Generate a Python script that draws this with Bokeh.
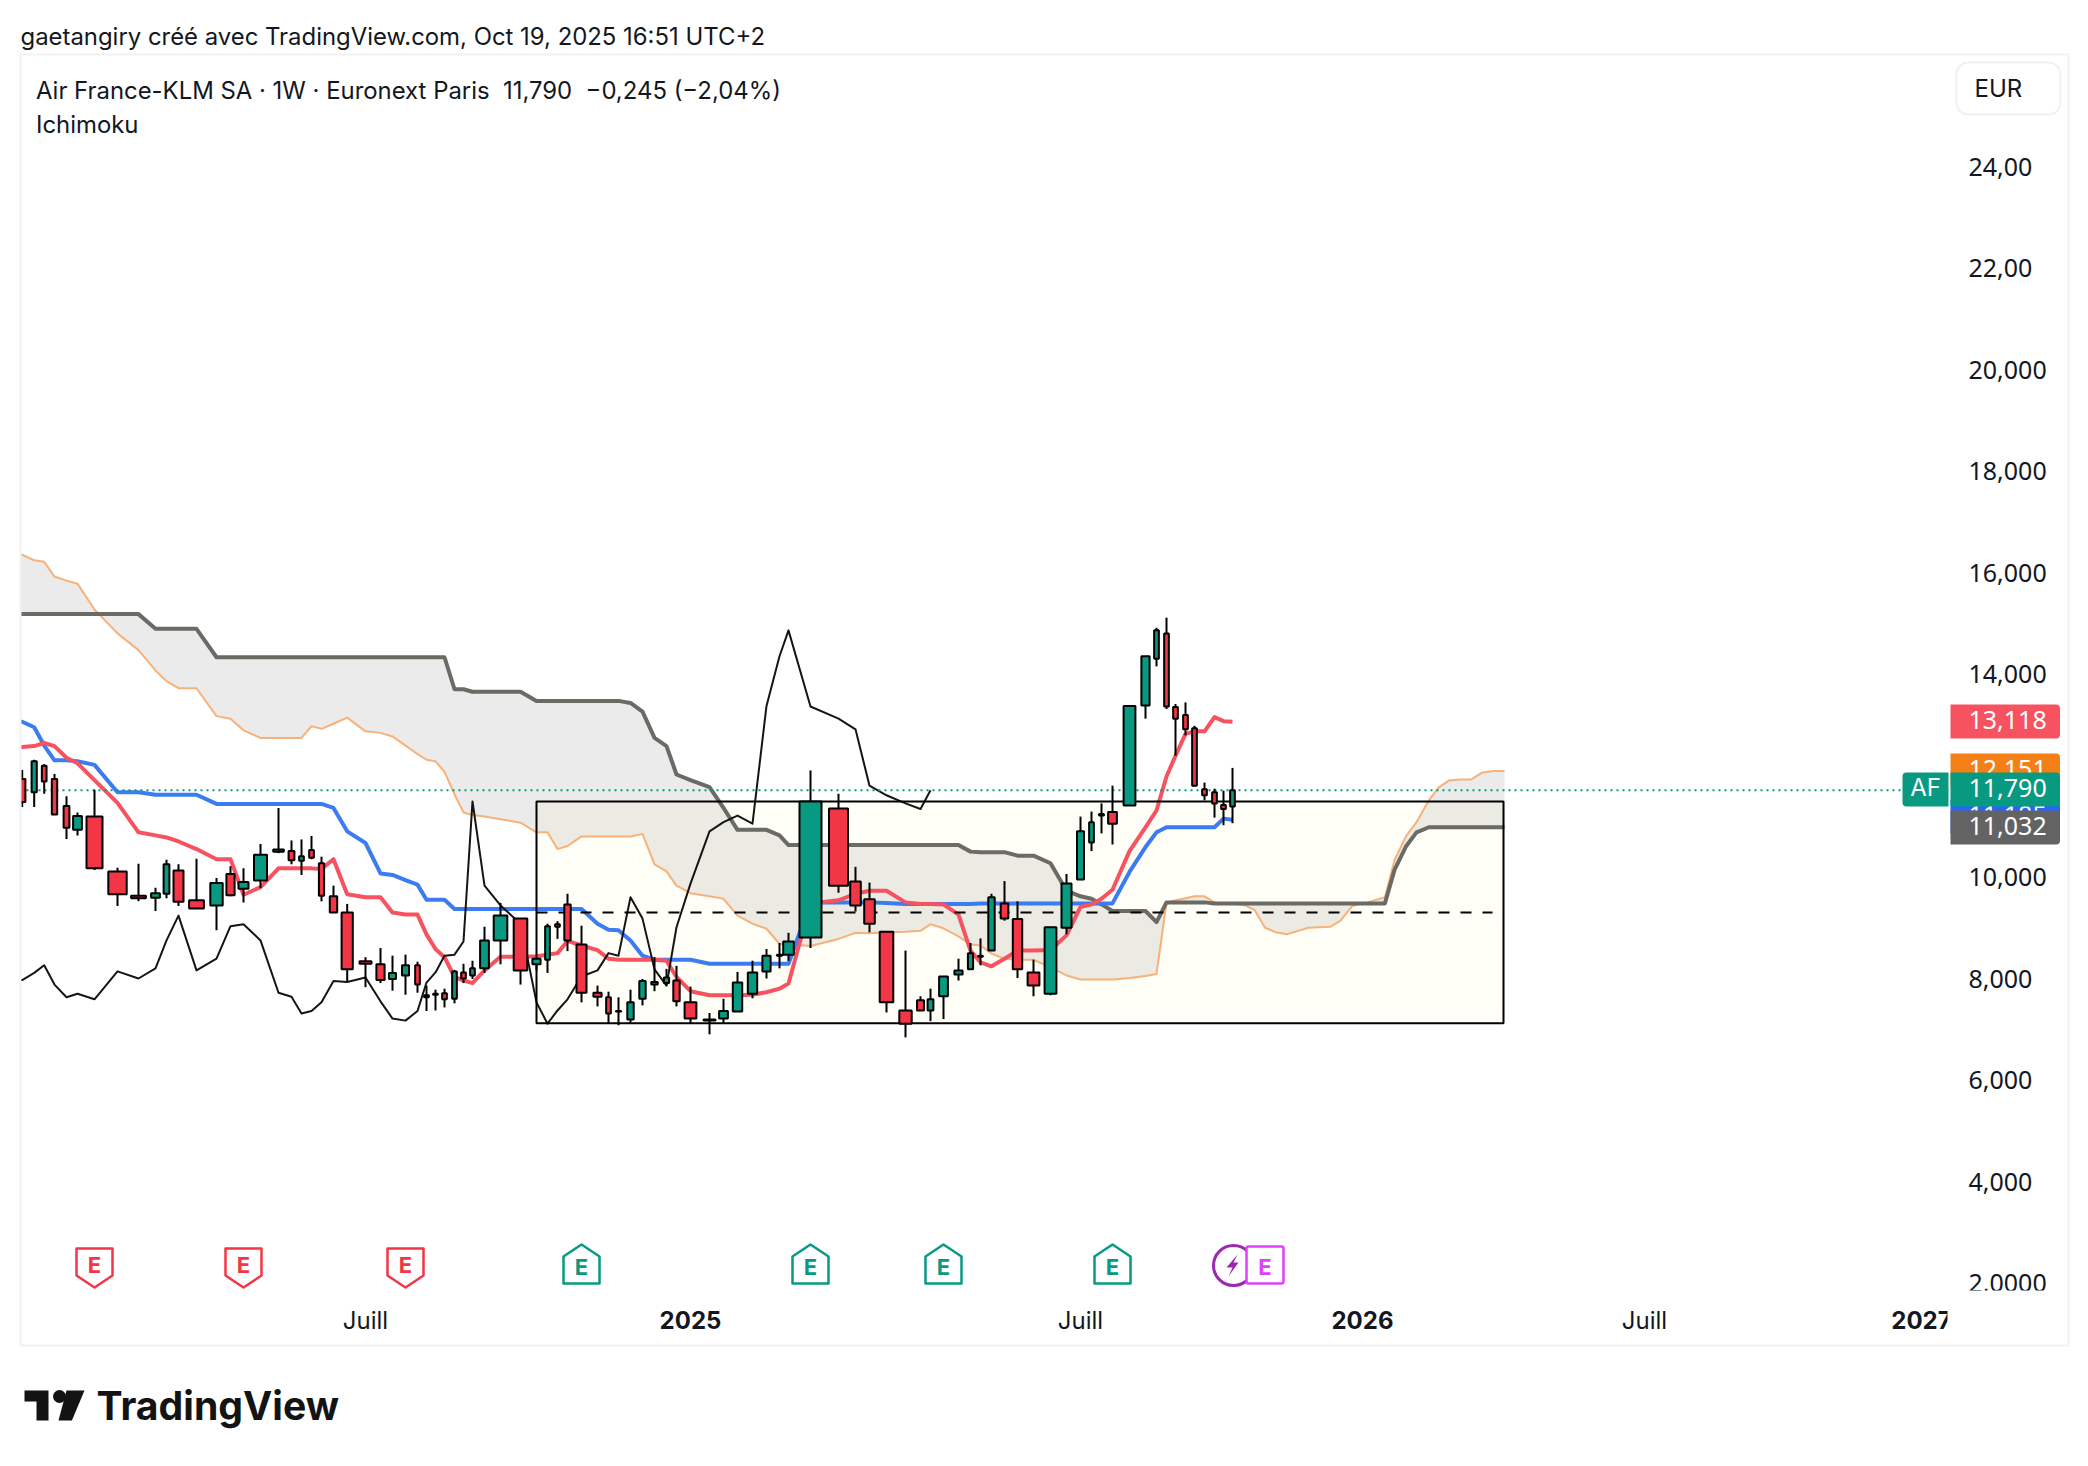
from bokeh.plotting import figure
from bokeh.models import Range1d, LinearAxis, FixedTicker
from bokeh.core.properties import value
from bokeh.embed import file_html
from bokeh.resources import INLINE

# ---------- data ----------
week_pos = [21.7,33.7,43.7,54,66,77,94,117,138,155,166,178,196,216,230,243,260,278,291,301,
            311,321,333,346.7,365,380,392,405,417,426,435,444,454,463,472,484,500,520,536,547,
            557,567,581,597,608,618,630,642,654,666,676,690,709,723,737,752,766,779,788,810,
            838,855,869,886,905,920,930,943,958,970,980,991,1004,1017,1033,1050,1066,1080,1091,1101,
            1112,1129,1145,1156,1166,1175,1185,1194,1204,1214,1223,1232]
future_pos = [1244.7,1254,1264.6,1275.3,1286,1307.8,1330,1340,1351.8,1367,1384.4,1394,1405.4,1416,
              1428.4,1438,1448.3,1459,1470.5,1482,1492.7,1504]

opens = [11.93,11.67,12.19,11.93,11.40,10.93,11.19,10.11,9.63,9.59,
         9.67,10.13,9.54,9.44,10.06,9.77,9.93,10.50,10.51,10.32,
         10.53,10.27,9.62,9.30,8.34,8.28,7.99,8.06,8.26,7.67,
         7.68,7.71,7.60,8.12,8.06,8.20,8.75,9.18,8.28,8.37,
         9.02,9.46,8.67,7.72,7.63,7.35,7.19,7.60,7.88,7.91,
         7.96,7.53,7.19,7.21,7.35,7.70,8.14,8.45,8.47,8.81,
         11.35,9.91,9.56,8.92,7.37,7.57,7.37,7.65,8.08,8.18,
         8.43,8.55,9.48,9.17,8.12,7.70,9.00,9.95,10.68,11.24,
         11.28,11.41,13.38,14.30,14.80,13.35,13.19,12.93,11.73,11.67,11.42,11.39]
closes = [11.48,12.28,11.88,11.23,10.97,11.20,10.17,9.66,9.58,9.68,
          10.25,9.51,9.38,9.88,9.64,9.90,10.44,10.54,10.33,10.41,
          10.38,9.63,9.30,8.18,8.29,7.97,8.11,8.26,7.88,7.63,
          7.70,7.59,8.14,8.00,8.20,8.75,9.24,8.16,8.39,9.03,
          9.07,8.75,7.72,7.64,7.31,7.36,7.53,7.95,7.93,8.02,
          7.55,7.21,7.17,7.36,7.92,8.12,8.45,8.47,8.73,11.49,
          9.83,9.44,9.08,7.53,7.11,7.37,7.59,8.04,8.16,8.50,
          8.45,9.60,9.18,8.18,7.86,9.01,9.87,10.90,11.08,11.21,
          11.05,13.37,14.35,14.86,13.36,13.12,12.91,11.80,11.61,11.45,11.34,11.71]
highs = [12.11,12.31,12.22,12.03,11.59,11.27,11.72,10.18,10.26,9.79,
         10.34,10.25,10.36,9.98,10.21,10.17,10.65,11.36,10.72,10.74,
         10.81,10.40,9.83,9.47,8.42,8.60,8.45,8.47,8.33,7.86,
         7.78,7.80,8.17,8.29,8.35,9.02,9.49,9.19,8.40,9.08,
         9.13,9.67,9.04,7.86,7.74,7.63,7.78,7.99,8.42,8.19,
         8.25,7.84,7.32,7.60,8.13,8.35,8.58,8.70,8.90,12.10,
         11.64,10.20,9.89,8.92,8.55,7.65,7.80,8.04,8.39,8.70,
         8.79,9.67,9.92,9.52,8.37,9.01,10.06,11.19,11.29,11.45,
         11.80,13.37,14.35,14.91,15.11,13.41,13.44,12.98,11.86,11.74,11.70,12.15]
lows = [11.38,11.38,11.64,11.23,10.75,10.82,10.14,9.43,9.52,9.33,
        9.58,9.43,9.38,8.95,9.62,9.50,9.78,10.47,10.25,10.04,
        10.35,9.52,9.30,7.93,7.83,7.91,7.76,7.68,7.72,7.36,
        7.37,7.43,7.51,7.91,7.99,8.11,8.28,7.88,8.16,8.11,
        8.78,8.54,7.53,7.45,7.12,7.08,7.12,7.47,7.75,7.86,
        7.45,7.12,6.90,7.12,7.35,7.61,8.00,8.20,8.35,8.60,
        9.69,9.32,8.91,7.33,6.84,7.37,7.16,7.20,7.96,8.18,
        8.26,8.55,9.14,8.01,7.65,7.67,8.87,9.95,10.51,10.86,
        10.64,11.41,13.12,14.15,13.31,12.39,12.79,11.80,11.51,11.17,11.02,11.06]

tenkan = [12.56,12.58,12.64,12.58,12.35,12.24,11.91,11.46,10.88,10.82,
          10.78,10.70,10.55,10.35,10.35,9.65,9.80,10.17,10.17,10.17,
          10.17,10.16,10.35,9.66,9.60,9.60,9.30,9.26,9.26,8.87,
          8.58,8.42,8.03,7.96,7.91,8.16,8.43,8.43,8.44,8.47,
          8.50,8.74,8.65,8.56,8.39,8.37,8.37,8.37,8.37,8.35,
          8.03,7.75,7.67,7.67,7.67,7.68,7.73,7.80,7.90,9.48,
          9.54,9.67,9.73,9.73,9.50,9.47,9.47,9.46,9.26,8.55,
          8.32,8.24,8.39,8.55,8.55,8.56,8.85,9.41,9.46,9.57,
          9.75,10.51,10.98,11.31,11.98,12.39,12.82,12.87,12.87,13.15,13.07,13.06]
kijun = [13.06,12.95,12.59,12.30,12.30,12.28,12.21,11.67,11.67,11.62,
         11.62,11.62,11.62,11.44,11.44,11.44,11.44,11.44,11.44,11.44,
         11.44,11.44,11.36,10.90,10.67,10.07,10.04,9.94,9.85,9.55,
         9.55,9.55,9.37,9.37,9.37,9.37,9.37,9.37,9.37,9.37,
         9.37,9.37,9.37,9.08,8.96,8.95,8.75,8.45,8.37,8.37,
         8.37,8.37,8.29,8.29,8.29,8.29,8.29,8.29,8.29,9.50,
         9.50,9.50,9.50,9.49,9.47,9.47,9.47,9.47,9.47,9.47,
         9.48,9.48,9.48,9.48,9.48,9.48,9.48,9.48,9.48,9.48,
         9.48,10.10,10.59,10.88,10.98,10.98,10.98,10.98,10.98,10.98,11.15,11.13]
senkou_a = [16.35,16.24,16.21,15.92,15.84,15.78,15.27,14.80,14.47,14.07,
            13.86,13.72,13.72,13.17,13.12,12.89,12.74,12.74,12.74,12.74,
            12.97,12.92,13.02,13.14,12.87,12.84,12.77,12.59,12.42,12.31,
            12.28,12.07,11.63,11.27,11.22,11.19,11.14,11.07,10.88,10.88,
            10.55,10.61,10.80,10.80,10.80,10.80,10.80,10.85,10.25,10.11,
            9.83,9.68,9.62,9.57,9.24,9.08,8.98,8.68,8.67,8.64,
            8.78,8.90,8.89,8.91,8.92,8.94,9.07,8.99,8.83,8.67,
            8.65,8.49,8.39,8.37,8.37,8.22,8.06,7.98,7.98,7.98,
            7.98,8.01,8.05,8.09,9.50,9.54,9.58,9.62,9.62,9.50,9.48,9.48,
            9.44,9.35,9.00,8.91,8.87,9.00,9.02,9.14,9.43,9.50,9.60,
            10.33,10.80,11.08,11.51,11.76,11.90,11.92,11.92,12.06,12.09,12.09]
senkou_b = [15.18,15.18,15.18,15.18,15.18,15.18,15.18,15.18,15.18,14.89,
            14.89,14.89,14.89,14.33,14.33,14.33,14.33,14.33,14.33,14.33,
            14.33,14.33,14.33,14.33,14.33,14.33,14.33,14.33,14.33,14.33,
            14.33,14.33,13.70,13.70,13.65,13.65,13.65,13.65,13.47,13.47,
            13.47,13.47,13.47,13.47,13.47,13.47,13.43,13.26,12.74,12.58,
            12.02,11.91,11.77,11.36,10.93,10.93,10.93,10.82,10.63,10.63,
            10.63,10.63,10.63,10.63,10.63,10.63,10.63,10.63,10.63,10.50,
            10.49,10.49,10.49,10.42,10.42,10.27,9.73,9.62,9.57,9.46,
            9.33,9.33,9.33,9.11,9.50,9.50,9.50,9.50,9.50,9.48,9.48,9.48,
            9.48,9.48,9.48,9.48,9.48,9.48,9.48,9.48,9.48,9.48,9.48,
            10.14,10.60,10.88,10.98,10.98,10.98,10.98,10.98,10.98,10.98,10.98]
box_top, box_bottom, box_mid = 11.49, 7.12, 9.30
box_left, box_right, box_mid_end = 536, 1503, 1492

price_ticks = [2,4,6,8,10,12,14,16,18,20,22,24]
price_tick_labels = ["2,0000","4,000","6,000","8,000","10,000","12,000","14,000","16,000","18,000","20,000","22,00","24,00"]
month_ticks, month_labels = [365,1080,1644], ["Juill","Juill","Juill"]
year_ticks, year_labels = [690,1362,1921], ["2025","2026","2027"]
earn_red, earn_green = [6,15,27], [42,59,67,80]

GREEN, RED = "#089981", "#f23645"
FONT = value("Inter")
NUMFONT = "Noto Sans"
INK = "#131722"

# ---------- canvas: 1 x-unit is 1 page px ----------
W, H = 2080, 1458
def price_at(px):
    return 24 - (px - 166) / 50.75

p = figure(width=W, height=H, output_backend="svg", toolbar_location=None,
           x_axis_type=None, y_axis_type=None, min_border=0,
           x_range=Range1d(0, W), y_range=Range1d(price_at(H), price_at(0)))
p.outline_line_color = None
p.grid.visible = False
p.background_fill_color = "white"
p.extra_y_ranges = {"px": Range1d(H, 0)}

def label(x, y, txt, size, color=INK, align="left", baseline="middle", style="normal", font=FONT):
    p.text(x=[x], y=[y], text=[txt], text_font=font, text_font_size=f"{size}px", text_color=color,
           text_align=align, text_baseline=baseline, text_font_style=style,
           y_range_name="px", level="overlay")

# every line is carried back to the pane's left edge
FRAME_LEFT = 20
def lead(series):
    return [series[0]] + series

# ---------- cloud, box, ichimoku lines ----------
all_pos = [FRAME_LEFT] + week_pos + future_pos
bar_pos = [FRAME_LEFT] + week_pos
p.varea(x=all_pos, y1=lead(senkou_a), y2=lead(senkou_b), fill_color="#ebebeb")
p.quad(left=[box_left], right=[box_right], top=[box_top], bottom=[box_bottom],
       fill_color="#ffeb3b", fill_alpha=0.04, line_color=None)
p.line(all_pos, lead(senkou_a), line_color="#f7b27a", line_width=2)
p.line(all_pos, lead(senkou_b), line_color="#6b6b66", line_width=4, line_join="round")
p.line(bar_pos, lead(kijun), line_color="#3b7cf2", line_width=4, line_join="round")
p.line(bar_pos, lead(tenkan), line_color="#f7525f", line_width=4, line_join="round")
p.line(bar_pos[:len(closes) - 24], lead(closes[25:]), line_color="#151515", line_width=2, line_join="round")
p.line([FRAME_LEFT, 1902], [closes[-1], closes[-1]], line_color=GREEN, line_width=2, line_dash="2 4")
p.quad(left=[box_left], right=[box_right], top=[box_top], bottom=[box_bottom],
       fill_color=None, line_color="black", line_width=2)
p.line([box_left, box_mid_end], [box_mid, box_mid], line_color="black", line_width=2, line_dash="11 11")

# ---------- candles ----------
widths = []
for i, x in enumerate(week_pos):
    gl = x - week_pos[i - 1] if i else week_pos[1] - x
    gr = week_pos[i + 1] - x if i < len(week_pos) - 1 else x - week_pos[i - 1]
    widths.append(max(4.7, 1.2 * (gl + gr) / 2 - 8))
p.segment(week_pos, highs, week_pos, lows, line_color="black", line_width=2)
p.vbar(x=week_pos, width=widths,
       top=[max(o, c) for o, c in zip(opens, closes)],
       bottom=[min(o, c) for o, c in zip(opens, closes)],
       fill_color=[GREEN if c >= o else RED for o, c in zip(opens, closes)],
       line_color="black", line_width=2)

# ---------- earnings markers ----------
for i in earn_red:
    c = week_pos[i]
    p.patch([c - 18, c + 18, c + 18, c, c - 18], [1248, 1248, 1275, 1287, 1275], fill_color="white",
            line_color=RED, line_width=2.5, line_join="round", y_range_name="px")
    label(c, 1264, "E", 22, RED, "center", style="bold")
for i in earn_green:
    c = week_pos[i]
    p.patch([c, c + 18, c + 18, c - 18, c - 18], [1244, 1256, 1283, 1283, 1256], fill_color="white",
            line_color=GREEN, line_width=2.5, line_join="round", y_range_name="px")
    label(c, 1266, "E", 22, GREEN, "center", style="bold")
p.scatter([1233], [1265], marker="circle", size=40, fill_color="white", line_color="#9c27b0", line_width=3, y_range_name="px")
p.patch([1237, 1226, 1232, 1228, 1238, 1233], [1254, 1267, 1267, 1276, 1262, 1262],
        fill_color="#9c27b0", line_color=None, y_range_name="px")
p.quad(left=[1246], right=[1283], top=[1246], bottom=[1283], fill_color="white", line_color="#e040fb",
       line_width=2.5, border_radius=2, y_range_name="px")
label(1264.5, 1266, "E", 22, "#e040fb", "center", style="bold")

# ---------- axes ----------
yaxis = LinearAxis(fixed_location=1968, ticker=FixedTicker(ticks=price_ticks),
                   major_label_overrides=dict(zip(price_ticks, price_tick_labels)),
                   axis_line_color=None, major_tick_line_color=None, minor_tick_line_color=None,
                   major_tick_in=0, major_tick_out=0, major_label_standoff=0,
                   major_label_text_font=NUMFONT, major_label_text_font_size="25px",
                   major_label_text_color=INK)
p.add_layout(yaxis, "right")
for ticks, labels, style, loc in ((month_ticks, month_labels, "normal", 1305), (year_ticks, year_labels, "bold", 1310)):
    xaxis = LinearAxis(fixed_location=price_at(loc), ticker=FixedTicker(ticks=ticks),
                       major_label_overrides=dict(zip(ticks, labels)),
                       axis_line_color=None, major_tick_line_color=None, minor_tick_line_color=None,
                       major_tick_in=0, major_tick_out=0, major_label_standoff=0,
                       major_label_text_font="Inter", major_label_text_font_size="24px",
                       major_label_text_font_style=style, major_label_text_color=INK)
    p.add_layout(xaxis, "below")

# ---------- clip masks and frame ----------
def px_quad(l, r, t, b, **kw):
    p.quad(left=[l], right=[r], top=[t], bottom=[b], y_range_name="px", level="overlay", **kw)
px_quad(0, 20, 54, 1345, fill_color="white", line_color=None)
px_quad(1960, 2066, 1290, 1343, fill_color="white", line_color=None)
px_quad(1947, 1962, 1295, 1343, fill_color="white", line_color=None)
px_quad(20, 2068, 54, 1345, fill_color=None, line_color="#f2f2f2", line_width=2)
px_quad(1956, 2060, 62, 114, fill_color="white", line_color="#f0f0f0", line_width=2, border_radius=12)
label(1974, 88, "EUR", 24)

# ---------- price tags ----------
def tag(top, bottom, color, txt):
    px_quad(1950, 2059.5, top, bottom, fill_color=color, line_color=None, border_radius=(0, 4, 4, 0))
    label(1968, (top + bottom) / 2 - 2, txt, 25, "white", font=value(NUMFONT))
tag(704, 738, "#f7525f", "13,118")
tag(753, 787, "#f57f17", "12,151")
tag(799, 833, "#2962ff", "11,185")
tag(810, 844, "#636363", "11,032")
tag(772, 806, GREEN, "11,790")
px_quad(1902, 1948, 772, 806, fill_color=GREEN, line_color=None, border_radius=(4, 0, 0, 4))
label(1925, 787, "AF", 24, "white", "center")

# ---------- header ----------
label(20, 36, "gaetangiry créé avec TradingView.com, Oct 19, 2025 16:51 UTC+2", 23.9)
label(35.5, 90, "Air France-KLM SA · 1W · Euronext Paris\u00a0\u00a011,790\u00a0\u00a0−0,245 (−2,04%)", 23.9)
label(35.5, 124, "Ichimoku", 23.9)

# ---------- logo ----------
LOGO = "#131313"
p.patch([24, 48, 48, 36, 36, 24], [1390, 1390, 1420, 1420, 1401, 1401], fill_color=LOGO, line_color=None, y_range_name="px")
p.scatter([59], [1396], marker="circle", size=13, fill_color=LOGO, line_color=None, y_range_name="px")
p.patch([66, 84, 71.4, 58], [1390, 1390, 1420, 1420], fill_color=LOGO, line_color=None, y_range_name="px")
label(96, 1405, "TradingView", 39.2, LOGO, style="bold")

open("out.html", "w").write(file_html(p, INLINE))
